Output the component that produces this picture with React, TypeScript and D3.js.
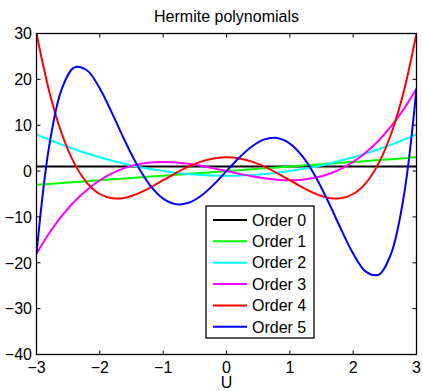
import { useEffect, useRef } from 'react';
import * as d3 from 'd3';

// sample points along U
const uValues = [-3, -2.8, -2.6, -2.4, -2.2, -2, -1.8, -1.6, -1.4, -1.2, -1, -0.8, -0.6, -0.4, -0.2, 0,
  0.2, 0.4, 0.6, 0.8, 1, 1.2, 1.4, 1.6, 1.8, 2, 2.2, 2.4, 2.6, 2.8, 3];

const order0 = [1, 1, 1, 1, 1, 1, 1, 1, 1, 1, 1, 1, 1, 1, 1, 1, 1, 1, 1, 1, 1, 1, 1, 1, 1, 1, 1, 1, 1, 1, 1];
const order1 = [-3, -2.8, -2.6, -2.4, -2.2, -2, -1.8, -1.6, -1.4, -1.2, -1, -0.8, -0.6, -0.4, -0.2, 0,
  0.2, 0.4, 0.6, 0.8, 1, 1.2, 1.4, 1.6, 1.8, 2, 2.2, 2.4, 2.6, 2.8, 3];
const order2 = [8, 6.84, 5.76, 4.76, 3.84, 3, 2.24, 1.56, 0.96, 0.44, 0, -0.36, -0.64, -0.84, -0.96, -1,
  -0.96, -0.84, -0.64, -0.36, 0, 0.44, 0.96, 1.56, 2.24, 3, 3.84, 4.76, 5.76, 6.84, 8];
const order3 = [-18, -13.55, -9.78, -6.62, -4.05, -2, -0.43, 0.7, 1.46, 1.87, 2, 1.89, 1.58, 1.14, 0.59, 0,
  -0.59, -1.14, -1.58, -1.89, -2, -1.87, -1.46, -0.7, 0.43, 2, 4.05, 6.62, 9.78, 13.55, 18];
const order4 = [30, 17.43, 8.14, 1.62, -2.61, -5, -5.94, -5.81, -4.92, -3.57, -2, -0.43, 0.97, 2.07, 2.76, 3,
  2.76, 2.07, 0.97, -0.43, -2, -3.57, -4.92, -5.81, -5.94, -5, -2.61, 1.62, 8.14, 17.43, 30];
const order5 = [-18, 5.42, 17.95, 22.61, 21.94, 18, 12.42, 6.47, 1.06, -3.21, -6, -7.21, -6.92, -5.37, -2.92, 0,
  2.92, 5.37, 6.92, 7.21, 6, 3.21, -1.06, -6.47, -12.42, -18, -21.94, -22.61, -17.95, -5.42, 18];

const seriesNames = ['Order 0', 'Order 1', 'Order 2', 'Order 3', 'Order 4', 'Order 5'];
const seriesValues = [order0, order1, order2, order3, order4, order5];
const seriesColors = ['#000000', '#00ff00', '#00ffff', '#ff00ff', '#ff0000', '#0000ff'];

const xTicks = [-3, -2, -1, 0, 1, 2, 3];
const yTicks = [-40, -30, -20, -10, 0, 10, 20, 30];

const WIDTH = 423;
const HEIGHT = 391;
const FONT = 'Liberation Sans, Arial, sans-serif';

export default function App() {
  const svgRef = useRef<SVGSVGElement>(null);

  useEffect(() => {
    if (!svgRef.current) return;
    const svg = d3.select(svgRef.current);
    svg.selectAll('*').remove();

    const margin = { top: 33.5, right: 6.5, bottom: 36.5, left: 36.5 };
    const innerWidth = WIDTH - margin.left - margin.right;
    const innerHeight = HEIGHT - margin.top - margin.bottom;

    const x = d3.scaleLinear().domain([-3, 3]).range([0, innerWidth]);
    const y = d3.scaleLinear().domain([-40, 30]).range([innerHeight, 0]);

    svg.append('rect').attr('width', WIDTH).attr('height', HEIGHT).attr('fill', '#fff');

    const g = svg.append('g').attr('transform', `translate(${margin.left},${margin.top})`);

    svg.append('defs').append('clipPath').attr('id', 'plot-clip')
      .append('rect').attr('width', innerWidth).attr('height', innerHeight);

    // Curves
    const line = d3.line<number>()
      .x((_, i) => x(uValues[i]))
      .y(d => y(d))
      .curve(d3.curveCatmullRom);

    const curves = g.append('g').attr('clip-path', 'url(#plot-clip)');
    seriesValues.forEach((vals, i) => {
      curves.append('path')
        .datum(vals)
        .attr('fill', 'none')
        .attr('stroke', seriesColors[i])
        .attr('stroke-width', 2)
        .attr('stroke-linejoin', 'round')
        .attr('d', line);
    });

    // Box
    g.append('rect')
      .attr('width', innerWidth)
      .attr('height', innerHeight)
      .attr('fill', 'none')
      .attr('stroke', '#000')
      .attr('stroke-width', 1.3);

    // Ticks (inward, all four sides)
    const tickLen = 4;
    xTicks.forEach(t => {
      g.append('line').attr('x1', x(t)).attr('x2', x(t)).attr('y1', innerHeight).attr('y2', innerHeight - tickLen)
        .attr('stroke', '#000').attr('stroke-width', 1);
      g.append('line').attr('x1', x(t)).attr('x2', x(t)).attr('y1', 0).attr('y2', tickLen)
        .attr('stroke', '#000').attr('stroke-width', 1);
      g.append('text')
        .attr('x', x(t))
        .attr('y', innerHeight + 18)
        .attr('text-anchor', 'middle')
        .attr('font-family', FONT)
        .attr('font-size', 16)
        .text(t < 0 ? `\u2212${-t}` : `${t}`);
    });
    yTicks.forEach(t => {
      g.append('line').attr('x1', 0).attr('x2', tickLen).attr('y1', y(t)).attr('y2', y(t))
        .attr('stroke', '#000').attr('stroke-width', 1);
      g.append('line').attr('x1', innerWidth).attr('x2', innerWidth - tickLen).attr('y1', y(t)).attr('y2', y(t))
        .attr('stroke', '#000').attr('stroke-width', 1);
      g.append('text')
        .attr('x', -4.5)
        .attr('y', y(t))
        .attr('dy', '0.36em')
        .attr('text-anchor', 'end')
        .attr('font-family', FONT)
        .attr('font-size', 16)
        .text(t < 0 ? `\u2212${-t}` : `${t}`);
    });

    // Labels
    g.append('text')
      .attr('x', innerWidth / 2)
      .attr('y', innerHeight + 33.5)
      .attr('text-anchor', 'middle')
      .attr('font-family', FONT)
      .attr('font-size', 16)
      .text('U');

    g.append('text')
      .attr('x', innerWidth / 2)
      .attr('y', -11.5)
      .attr('text-anchor', 'middle')
      .attr('font-family', FONT)
      .attr('font-size', 16)
      .text('Hermite polynomials');

    // Legend
    const legend = g.append('g').attr('transform', `translate(${206 - margin.left},${206 - margin.top})`);
    legend.append('rect')
      .attr('width', 108)
      .attr('height', 132)
      .attr('fill', '#fff')
      .attr('stroke', '#000')
      .attr('stroke-width', 1.3);
    seriesNames.forEach((name, i) => {
      const cy = 14 + i * 21.35;
      legend.append('line')
        .attr('x1', 7).attr('x2', 41).attr('y1', cy).attr('y2', cy)
        .attr('stroke', seriesColors[i]).attr('stroke-width', 2);
      legend.append('text')
        .attr('x', 46)
        .attr('y', cy)
        .attr('dy', '0.36em')
        .attr('font-family', FONT)
        .attr('font-size', 16)
        .text(name);
    });
  }, []);

  return (
    <svg
      ref={svgRef}
      width={WIDTH}
      height={HEIGHT}
      style={{ position: 'absolute', left: 0, top: 0 }}
    />
  );
}
